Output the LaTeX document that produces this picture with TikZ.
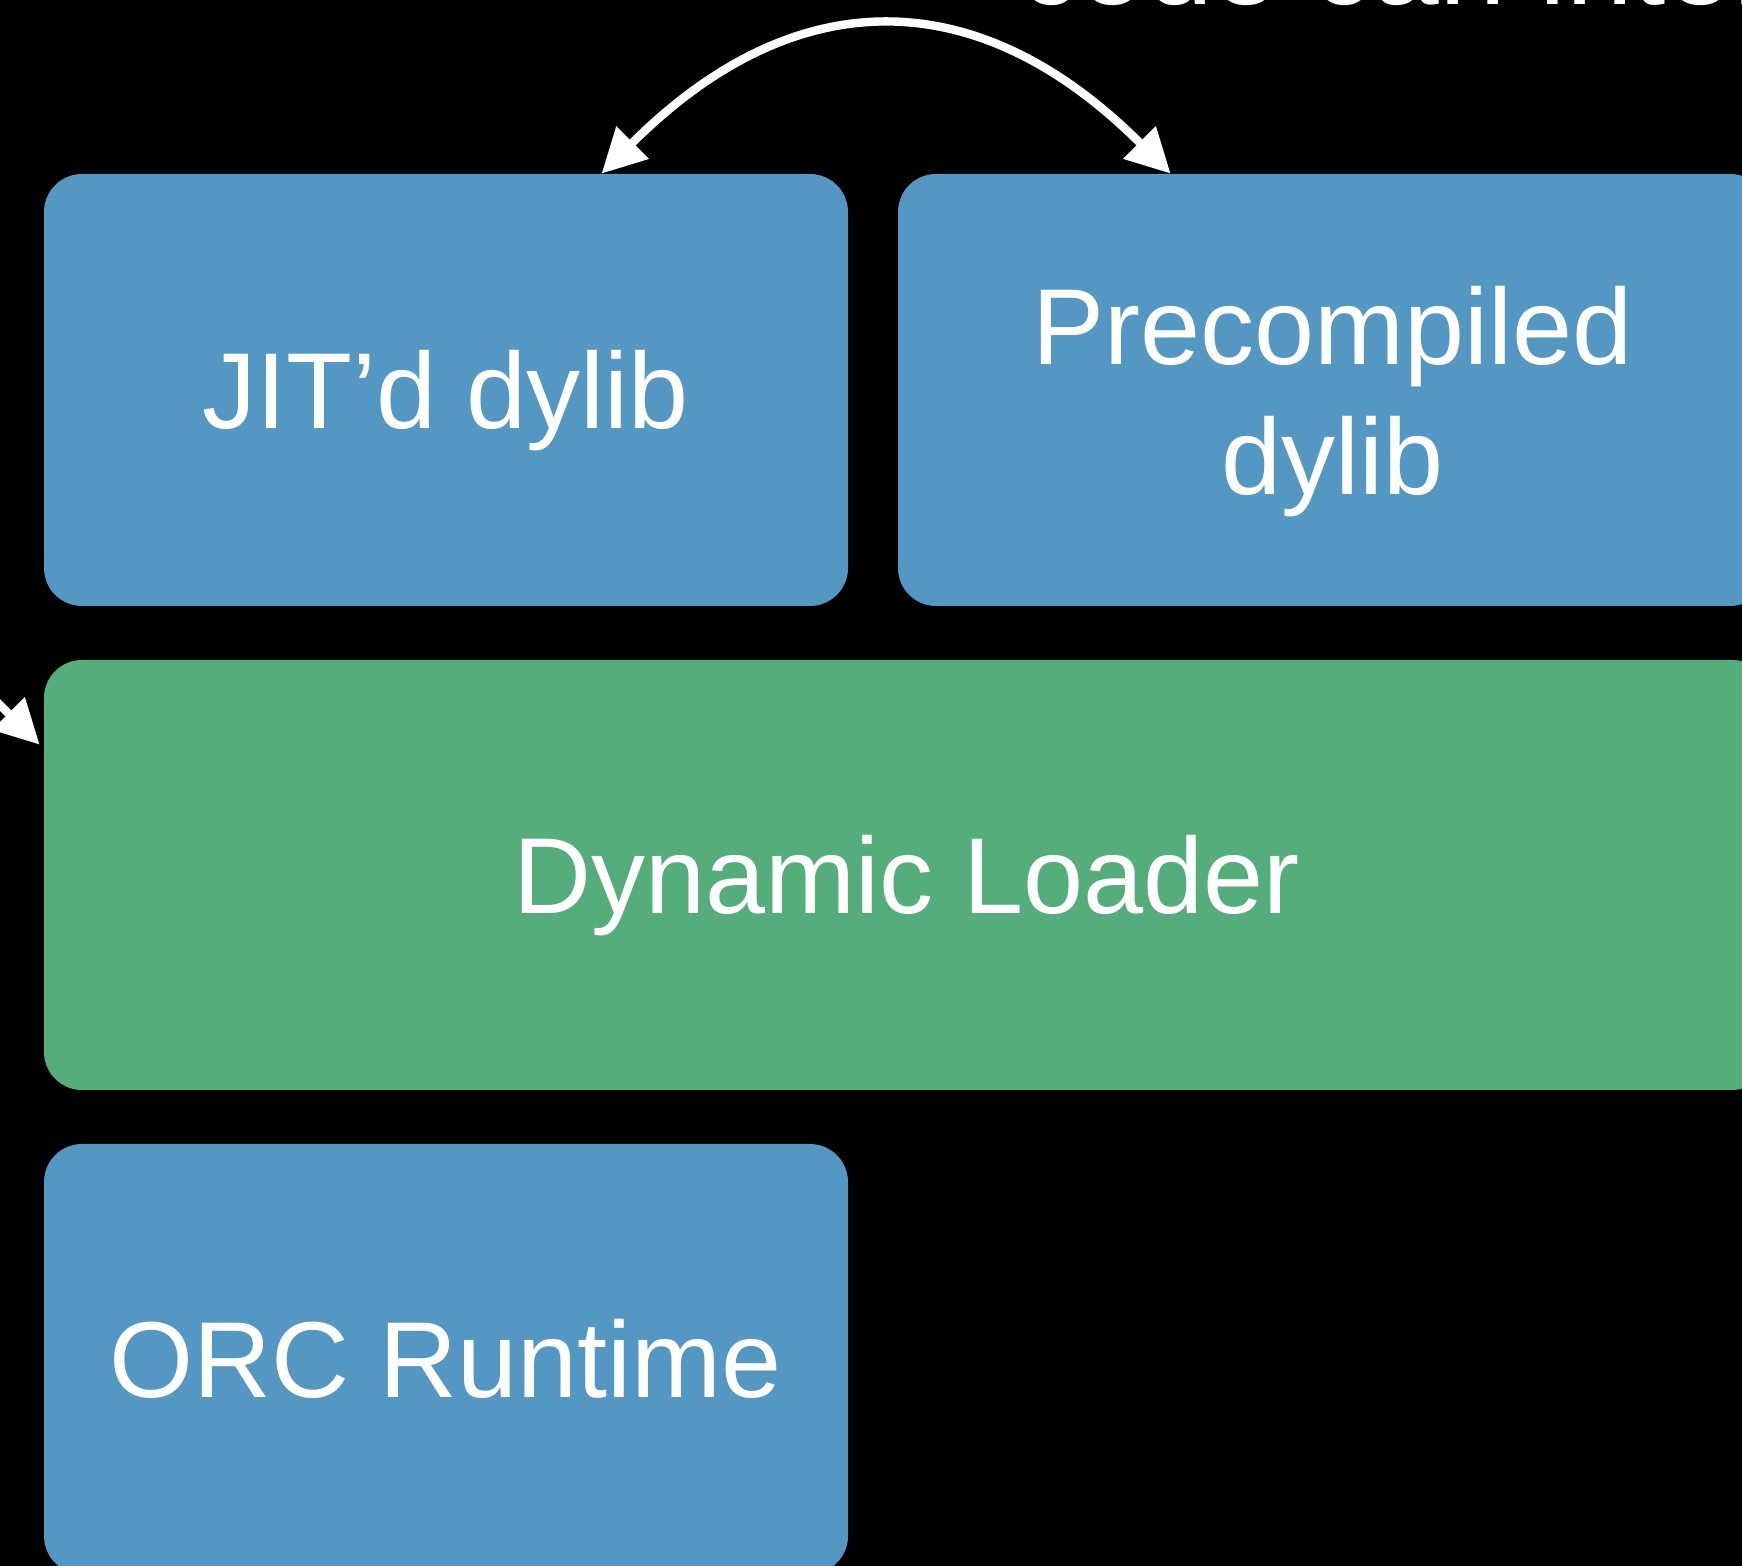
\documentclass[tikz,border=0pt]{standalone}
\usepackage{fontspec}
\setmainfont{Liberation Sans}
\usetikzlibrary{arrows.meta,calc}
\definecolor{boxblue}{RGB}{84,151,194}
\definecolor{boxgreen}{RGB}{85,173,123}
\begin{document}
\begin{tikzpicture}[x=0.5pt,y=-0.5pt,
  >={Triangle[length=22pt,width=22pt]},
  box/.style={rounded corners=19pt, inner sep=0pt, text=white,
    font=\fontsize{54}{65}\selectfont, align=center, text depth=0pt},
  oneline/.style={text height=38.7pt},
  link/.style={white, line width=4.2pt},
]
\fill[black] (0,0) rectangle (1742,1566);
\useasboundingbox (0,0) rectangle (1742,1566);

\node[box, oneline, fill=boxblue, minimum width=402pt, minimum height=216pt] (jit) at (446,390) {JIT’d dylib};
\node[box, fill=boxblue, minimum width=435pt, minimum height=216pt] (pre) at (1333,390) {Precompiled\\dylib};
\node[box, oneline, fill=boxgreen, minimum width=863pt, minimum height=215pt] (dl) at (907,875) {Dynamic Loader};
\node[box, oneline, fill=boxblue, minimum width=402pt, minimum height=215pt] (orc) at (446,1359) {ORC Runtime};

\node[anchor=base west, inner sep=0pt, text=white, font=\fontsize{60}{72}\selectfont] (cap) at (1019,5) {code can interact};

\coordinate (ja) at ($(jit.north west)+(558,0)$);
\coordinate (pa) at ($(pre.north west)+(273,0)$);
\draw[link, <->] (ja) .. controls +(193,-193) and +(-193,-193) .. (pa);

\coordinate (ls) at (-80,625);
\coordinate (lt) at ($(dl.north west)+(-4,85)$);
\draw[link, ->] (ls) -- (lt);
\end{tikzpicture}
\end{document}
